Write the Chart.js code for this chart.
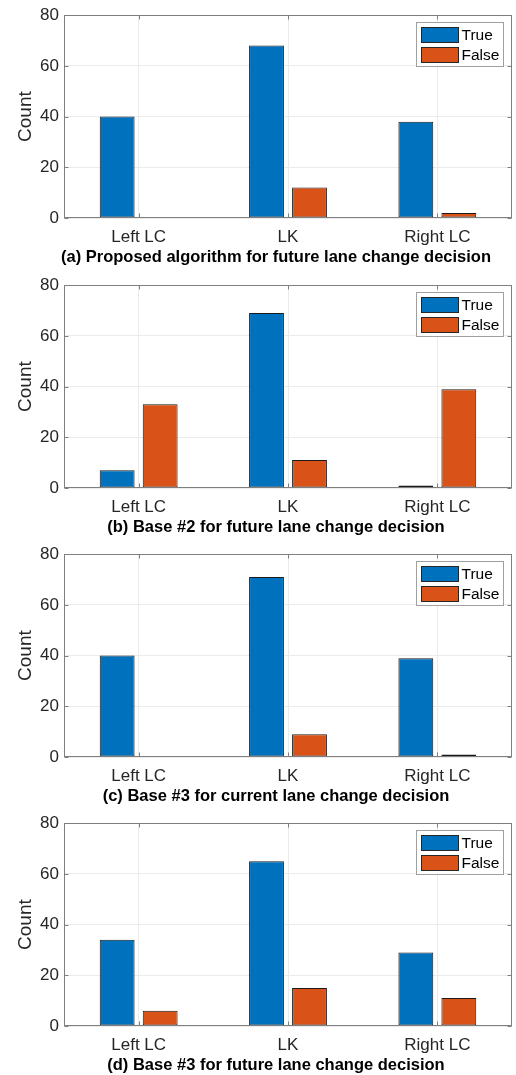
<!DOCTYPE html>
<html>
<head>
<meta charset="utf-8">
<script src="https://cdn.jsdelivr.net/npm/chart.js@4.4.0/dist/chart.umd.min.js"></script>
<style>
  body { margin: 0; background: #fff; width: 516px; height: 1075px; position: relative; overflow: hidden; font-family: "Liberation Sans", Arial, sans-serif; }
  .panel { position: absolute; left: 0; width: 516px; height: 270px; }
  .panel canvas { position: absolute; left: 0; top: 0; }
  .caption { position: absolute; left: 276px; top: 247px; transform: translateX(-50%); white-space: nowrap;
             font-weight: bold; font-size: 16.5px; line-height: 18px; color: #000; }
</style>
</head>
<body>
<div class="panel" style="top:0px"><canvas id="c0" width="516" height="270"></canvas><div class="caption" id="t0"></div></div>
<div class="panel" style="top:270px"><canvas id="c1" width="516" height="270"></canvas><div class="caption" id="t1"></div></div>
<div class="panel" style="top:539px"><canvas id="c2" width="516" height="270"></canvas><div class="caption" id="t2"></div></div>
<div class="panel" style="top:808px"><canvas id="c3" width="516" height="270"></canvas><div class="caption" id="t3"></div></div>
<script>
// data
const categories = ['Left LC', 'LK', 'Right LC'];
const seriesNames = ['True', 'False'];
const yTicks = [0, 20, 40, 60, 80];

const trueA = [40, 68, 38];
const falseA = [0, 12, 2];
const trueB = [7, 69, 1];
const falseB = [33, 11, 39];
const trueC = [40, 71, 39];
const falseC = [0, 9, 1];
const trueD = [34, 65, 29];
const falseD = [6, 15, 11];

const captions = [
    '(a) Proposed algorithm for future lane change decision',
    '(b) Base #2 for future lane change decision',
    '(c) Base #3 for current lane change decision',
    '(d) Base #3 for future lane change decision'
];

const blue = '#0072BD';
const orange = '#D95319';

// box + inward ticks like matlab
const matlabBox = {
    id: 'matlabBox',
    afterDatasetsDraw(chart) {
        const ctx = chart.ctx;
        const { left, right, top, bottom } = chart.chartArea;
        const L = Math.round(left) + 0.5, R = Math.round(right) - 0.5;
        const T = Math.round(top) + 0.5, B = Math.round(bottom) - 0.5;
        ctx.save();
        ctx.strokeStyle = '#7f7f7f';
        ctx.lineWidth = 1;
        ctx.beginPath();
        chart.scales.y.ticks.forEach(t => {
            const py = Math.round(chart.scales.y.getPixelForValue(t.value)) + 0.5;
            ctx.moveTo(L, py); ctx.lineTo(L + 4, py);
            ctx.moveTo(R, py); ctx.lineTo(R - 4, py);
        });
        categories.forEach((c, i) => {
            const px = Math.round(chart.scales.x.getPixelForValue(i)) + 0.5;
            ctx.moveTo(px, B); ctx.lineTo(px, B - 4);
            ctx.moveTo(px, T); ctx.lineTo(px, T + 4);
        });
        ctx.stroke();
        ctx.strokeRect(L, T, R - L, B - T);
        ctx.restore();
    }
};

// legend box top right inside axes
const boxLegend = {
    id: 'boxLegend',
    afterDraw(chart) {
        const ctx = chart.ctx;
        const { right, top } = chart.chartArea;
        const x = Math.round(right) - 96 + 0.5, y = Math.round(top) + 7 + 0.5;
        ctx.save();
        ctx.fillStyle = '#fff';
        ctx.fillRect(x, y, 87, 44);
        ctx.strokeStyle = '#a0a0a0';
        ctx.lineWidth = 1;
        ctx.strokeRect(x, y, 87, 44);
        chart.data.datasets.forEach((ds, i) => {
            const py = y + 5 + i * 20;
            ctx.fillStyle = ds.backgroundColor;
            ctx.fillRect(x + 5, py, 37, 15);
            ctx.strokeStyle = '#262626';
            ctx.strokeRect(x + 5, py, 37, 15);
            ctx.fillStyle = '#000';
            ctx.font = '15.5px "Liberation Sans", Arial, sans-serif';
            ctx.textBaseline = 'middle';
            ctx.textAlign = 'left';
            ctx.fillText(ds.label, x + 45, py + 8);
        });
        ctx.restore();
    }
};

function makeChart(id, trueVals, falseVals) {
    return new Chart(document.getElementById(id), {
        type: 'bar',
        data: {
            labels: categories,
            datasets: [
                { label: seriesNames[0], data: trueVals, backgroundColor: blue, borderColor: '#1a1a1a', borderWidth: 1, borderSkipped: false },
                { label: seriesNames[1], data: falseVals, backgroundColor: orange, borderColor: '#1a1a1a', borderWidth: 1, borderSkipped: false }
            ]
        },
        options: {
            responsive: false,
            animation: false,
            events: [],
            layout: { padding: { top: 15, right: 4, left: 0, bottom: 0 } },
            datasets: { bar: { categoryPercentage: 0.576, barPercentage: 0.81 } },
            plugins: { legend: { display: false }, tooltip: { enabled: false } },
            scales: {
                x: {
                    grid: { offset: false, color: '#ebebeb', drawTicks: false },
                    border: { display: false },
                    ticks: { color: '#262626', padding: 9, font: { size: 17, family: '"Liberation Sans", Arial, sans-serif' } },
                    afterFit: s => { s.height = 52; }
                },
                y: {
                    min: yTicks[0],
                    max: yTicks[yTicks.length - 1],
                    afterBuildTicks: s => { s.ticks = yTicks.map(v => ({ value: v })); },
                    grid: { color: '#ebebeb', drawTicks: false },
                    border: { display: false },
                    ticks: { color: '#262626', padding: 5, font: { size: 17, family: '"Liberation Sans", Arial, sans-serif' } },
                    title: { display: true, text: 'Count', color: '#262626', padding: { top: 14, bottom: 0 },
                             font: { size: 19, family: '"Liberation Sans", Arial, sans-serif' } },
                    afterFit: s => { s.width = 64; }
                }
            }
        },
        plugins: [matlabBox, boxLegend]
    });
}

const allTrue = [trueA, trueB, trueC, trueD];
const allFalse = [falseA, falseB, falseC, falseD];
for (let i = 0; i < 4; i++) {
    document.getElementById('t' + i).textContent = captions[i];
    makeChart('c' + i, allTrue[i], allFalse[i]);
}
</script>
</body>
</html>
